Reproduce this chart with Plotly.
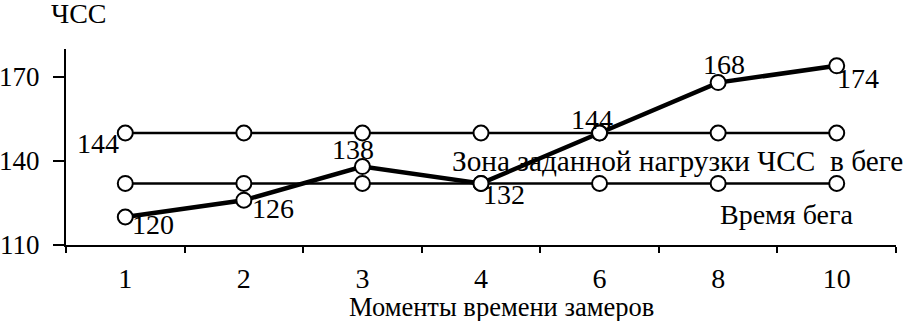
import plotly.graph_objects as go

moments = ["1", "2", "3", "4", "6", "8", "10"]
upper_zone = [150, 150, 150, 150, 150, 150, 150]
lower_zone = [132, 132, 132, 132, 132, 132, 132]
heart_rate = [120, 126, 138, 132, 150, 168, 174]
hr_labels = ["120", "126", "138", "132", "144", "168", "174"]
y_ticks = [110, 140, 170]

# label offsets in pixels (dx right, dy up) relative to each marker
label_dx = [28, 29, -9, 23, -8, 6, 21]
label_dy = [-7, -8, 17, -11, 14, 18, -13]

FONT = "Liberation Serif"
FS = 28

marker = dict(symbol="circle", size=15, color="white",
              line=dict(color="black", width=2))

fig = go.Figure()
fig.add_trace(go.Scatter(x=moments, y=upper_zone, mode="lines+markers",
                         line=dict(color="black", width=2.5), marker=marker,
                         showlegend=False, hoverinfo="skip"))
fig.add_trace(go.Scatter(x=moments, y=lower_zone, mode="lines+markers",
                         line=dict(color="black", width=2.5), marker=marker,
                         showlegend=False, hoverinfo="skip"))
fig.add_trace(go.Scatter(x=moments, y=heart_rate, mode="lines+markers",
                         line=dict(color="black", width=4.5), marker=marker,
                         showlegend=False, hoverinfo="skip"))

for i, (v, t) in enumerate(zip(heart_rate, hr_labels)):
    fig.add_annotation(x=i, y=v, text=t, showarrow=False,
                       xanchor="center", yanchor="middle",
                       xshift=label_dx[i], yshift=label_dy[i],
                       font=dict(family=FONT, size=FS, color="black"))

fig.add_annotation(x=0, y=upper_zone[0], text="144", showarrow=False,
                   xanchor="center", yanchor="middle", xshift=-27, yshift=-10,
                   font=dict(family=FONT, size=FS, color="black"))
fig.add_annotation(x=0.463, y=lower_zone[0] + 8, xref="paper", yref="y",
                   text="Зона заданной нагрузки ЧСС  в беге", showarrow=False,
                   xanchor="left", yanchor="middle",
                   font=dict(family=FONT, size=29.3, color="black"))
fig.add_annotation(x=6, y=lower_zone[0] - 11, text="Время бега",
                   showarrow=False, xanchor="center", yanchor="middle", xshift=-50,
                   font=dict(family=FONT, size=28, color="black"))
fig.add_annotation(x=0.016, y=1.0, xref="paper", yref="paper", text="ЧСС",
                   showarrow=False, xanchor="center", yanchor="middle", yshift=36,
                   font=dict(family=FONT, size=FS, color="black"))
fig.add_annotation(x=0.525, y=0, xref="paper", yref="paper",
                   text="Моменты времени замеров", showarrow=False,
                   xanchor="center", yanchor="middle", yshift=-62,
                   font=dict(family=FONT, size=26.5, color="black"))

fig.update_layout(
    width=911, height=321,
    margin=dict(l=66, r=15, t=49, b=76),
    paper_bgcolor="white", plot_bgcolor="white",
    font=dict(family=FONT, size=FS, color="black"),
    xaxis=dict(type="category", showline=True, linecolor="black", linewidth=2,
               ticks="outside", tickson="boundaries", ticklen=6, tickwidth=2,
               tickcolor="black", showgrid=False, zeroline=False, automargin=False,
               ticklabelstandoff=7, range=[-0.5, 6.5]),
    yaxis=dict(range=[110, 180], tickvals=y_ticks, showline=True,
               linecolor="black", linewidth=2, ticks="outside", ticklen=11,
               tickwidth=2, tickcolor="black", showgrid=False, zeroline=False,
               automargin=False, ticklabelstandoff=8,
               tickfont=dict(family=FONT, size=27, color="black")),
)

fig.write_html("out.html", config={"displayModeBar": False},
               post_script="document.body.style.margin='0';document.body.style.overflow='hidden';")
